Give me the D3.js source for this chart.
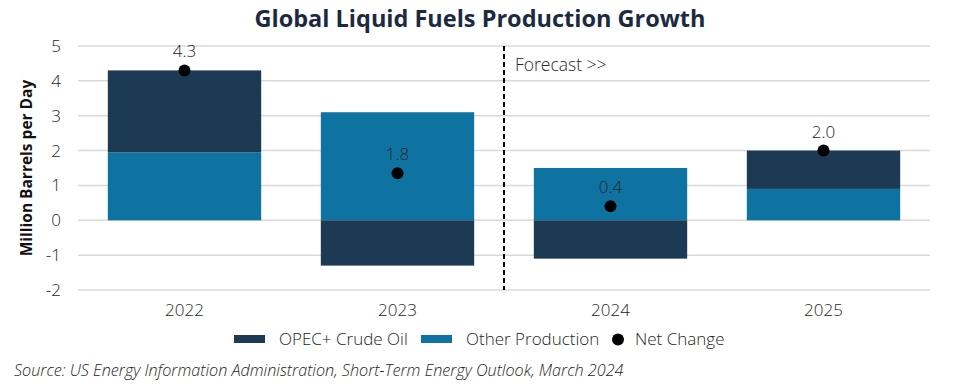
<!DOCTYPE html>
<meta charset="utf-8">
<style>
body { margin: 0; background: #fff; }
svg text { font-family: "Open Sans", sans-serif; font-weight: 300; fill: #262626; }
.grid line { stroke: #d9d9d9; stroke-width: 1.5px; }
</style>
<body>
<script src="https://cdn.jsdelivr.net/npm/d3@7"></script>
<script>

// data
var years = ["2022", "2023", "2024", "2025"];
var opec = [2.35, -1.3, -1.1, 1.1];
var other = [1.95, 3.1, 1.5, 0.9];
var netDot = [4.3, 1.35, 0.4, 2.0];
var netLabel = ["4.3", "1.8", "0.4", "2.0"];
var yTicks = [-2, -1, 0, 1, 2, 3, 4, 5];

var width = 960, height = 388;
var margin = {top: 46, right: 30, bottom: 98, left: 78};

var svg = d3.select("body").append("svg")
    .attr("width", width)
    .attr("height", height);

var x = d3.scaleBand()
    .domain(years)
    .range([margin.left, width - margin.right])
    .paddingInner(0.28)
    .paddingOuter(0.14);

var y = d3.scaleLinear()
    .domain([-2, 5])
    .range([290, 46]);

// title
svg.append("text")
    .attr("x", 480)
    .attr("y", 27)
    .attr("text-anchor", "middle")
    .style("font-size", "23.5px")
    .style("font-weight", "700")
    .style("fill", "#1c2a3f")
    .text("Global Liquid Fuels Production Growth");

// gridlines
svg.append("g").attr("class", "grid")
  .selectAll("line")
  .data(yTicks)
  .enter().append("line")
    .attr("x1", margin.left)
    .attr("x2", width - margin.right)
    .attr("y1", function(d) { return y(d); })
    .attr("y2", function(d) { return y(d); });

// y tick labels
svg.append("g")
  .selectAll("text")
  .data(yTicks)
  .enter().append("text")
    .attr("x", 61)
    .attr("y", function(d) { return y(d); })
    .attr("dy", "0.35em")
    .attr("text-anchor", "end")
    .style("font-size", "17px")
    .text(function(d) { return d; });

// y axis title
svg.append("text")
    .attr("transform", "translate(32," + y(1.5) + ") rotate(-90)")
    .attr("text-anchor", "middle")
    .style("font-size", "15.5px")
    .style("font-weight", "700")
    .style("fill", "#111")
    .text("Million Barrels per Day");

// bars: other stacks from 0, opec stacks on top if positive, below 0 if negative
var bars = svg.append("g");
years.forEach(function(yr, i) {
    var o = other[i], p = opec[i];
    bars.append("rect")
        .attr("x", x(yr))
        .attr("width", x.bandwidth())
        .attr("y", y(o))
        .attr("height", y(0) - y(o))
        .attr("fill", "#0f73a1");
    var p0 = p >= 0 ? o : 0, p1 = p >= 0 ? o + p : p;
    bars.append("rect")
        .attr("x", x(yr))
        .attr("width", x.bandwidth())
        .attr("y", y(Math.max(p0, p1)))
        .attr("height", Math.abs(y(p0) - y(p1)))
        .attr("fill", "#1c3a54");
});

// forecast divider
var divX = x("2024") - x.step() * x.paddingInner() / 2;
svg.append("line")
    .attr("x1", divX).attr("x2", divX)
    .attr("y1", y(5)).attr("y2", y(-2))
    .attr("stroke", "#000")
    .attr("stroke-width", 2)
    .attr("stroke-dasharray", "5,3");

svg.append("text")
    .attr("x", divX + 11)
    .attr("y", 71)
    .style("font-size", "17.5px")
    .text("Forecast >>");

// net change dots + labels
svg.append("g")
  .selectAll("circle")
  .data(netDot)
  .enter().append("circle")
    .attr("cx", function(d, i) { return x(years[i]) + x.bandwidth() / 2; })
    .attr("cy", function(d) { return y(d); })
    .attr("r", 6)
    .attr("fill", "#000");

svg.append("g")
  .selectAll("text")
  .data(netLabel)
  .enter().append("text")
    .attr("x", function(d, i) { return x(years[i]) + x.bandwidth() / 2; })
    .attr("y", function(d, i) { return y(netDot[i]) - 13; })
    .attr("text-anchor", "middle")
    .style("font-size", "17px")
    .text(function(d) { return d; });

// x labels
svg.append("g")
  .selectAll("text")
  .data(years)
  .enter().append("text")
    .attr("x", function(d) { return x(d) + x.bandwidth() / 2; })
    .attr("y", 316)
    .attr("text-anchor", "middle")
    .style("font-size", "17px")
    .text(function(d) { return d; });

// legend
var legend = svg.append("g").attr("transform", "translate(0,339)");
legend.append("rect").attr("x", 234).attr("y", -4).attr("width", 31).attr("height", 8).attr("fill", "#1c3a54");
legend.append("text").attr("x", 279).attr("dy", "0.35em").style("font-size", "17px").text("OPEC+ Crude Oil");
legend.append("rect").attr("x", 421).attr("y", -4).attr("width", 31).attr("height", 8).attr("fill", "#0f73a1");
legend.append("text").attr("x", 466).attr("dy", "0.35em").style("font-size", "17px").text("Other Production");
legend.append("circle").attr("cx", 618).attr("cy", 0.5).attr("r", 6).attr("fill", "#000");
legend.append("text").attr("x", 635).attr("dy", "0.35em").style("font-size", "17px").text("Net Change");

// source
svg.append("text")
    .attr("x", 14)
    .attr("y", 376)
    .style("font-size", "16.2px")
    .style("font-style", "italic")
    .text("Source: US Energy Information Administration, Short-Term Energy Outlook, March 2024");

</script>
</body>
